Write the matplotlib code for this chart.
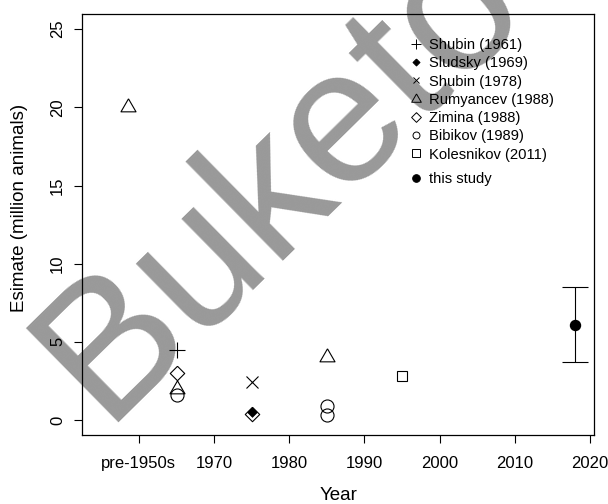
import matplotlib
matplotlib.use('Agg')
import matplotlib.pyplot as plt
from matplotlib.lines import Line2D

plt.rcParams['font.family'] = ['Liberation Sans', 'DejaVu Sans']

# data
shubin61_x = [1965]
shubin61_y = [4.5]
sludsky_x = [1975]
sludsky_y = [0.5]
shubin78_x = [1975]
shubin78_y = [2.4]
rumyancev_x = [1958.5, 1965, 1985]
rumyancev_y = [20.0, 2.0, 4.0]
zimina_x = [1965, 1975]
zimina_y = [3.0, 0.4]
bibikov_x = [1965, 1985, 1985]
bibikov_y = [1.6, 0.9, 0.3]
kolesnikov_x = [1995]
kolesnikov_y = [2.8]
study_x = [2018]
study_y = [6.1]
study_lo = [3.7]
study_hi = [8.5]

xtick_pos = [1960, 1970, 1980, 1990, 2000, 2010, 2020]
xtick_labels = ['pre-1950s', '1970', '1980', '1990', '2000', '2010', '2020']
ytick_pos = [0, 5, 10, 15, 20, 25]

# marker shapes (R-like)
tri = [(0, 1), (-0.866, -0.5), (0.866, -0.5), (0, 1)]
dia = [(0, 1), (1, 0), (0, -1), (-1, 0), (0, 1)]

fig = plt.figure(figsize=(6.08, 5.04), dpi=100)
ax = fig.add_axes([0.1345, 0.1369, 0.843, 0.8353])
ax.patch.set_alpha(0)

# watermark underneath everything
fig.text(103 / 608, 1 - 423 / 504, 'Buketov', fontsize=138, color='#999999',
         rotation=44.5, rotation_mode='anchor', ha='left', va='baseline',
         zorder=-5)

kw = dict(linestyle='none', color='black', mfc='none', mew=0.8)
ax.plot(shubin61_x, shubin61_y, marker='+', ms=11.5, **kw)
ax.plot(zimina_x, zimina_y, marker=dia, ms=10.4, **kw)
ax.plot(sludsky_x, sludsky_y, marker=dia, ms=7.0, linestyle='none', color='black', mew=0.5)
ax.plot(shubin78_x, shubin78_y, marker='x', ms=8, **kw)
ax.plot(rumyancev_x, rumyancev_y, marker=tri, ms=12.5, **kw)
ax.plot(bibikov_x, bibikov_y, marker='o', ms=9.4, **kw)
ax.plot(kolesnikov_x, kolesnikov_y, marker='s', ms=7.7, **kw)

yerr = [[study_y[0] - study_lo[0]], [study_hi[0] - study_y[0]]]
ax.errorbar(study_x, study_y, yerr=yerr, fmt='o', color='black', ms=7.2,
            capsize=9.4, elinewidth=0.8, capthick=0.8)

ax.set_xlim(1952.4, 2020.57)
ax.set_ylim(-0.96, 25.97)
ax.set_xticks(xtick_pos)
ax.set_xticklabels(xtick_labels)
ax.set_yticks(ytick_pos)
for lab in ax.get_yticklabels():
    lab.set_rotation(90)
    lab.set_va('center')

ax.tick_params(axis='both', direction='out', length=6, width=0.8, labelsize=12,
               colors='black')
ax.tick_params(axis='x', pad=9)
ax.tick_params(axis='y', pad=6)
for s in ax.spines.values():
    s.set_linewidth(0.9)

ax.set_xlabel('Year', fontsize=13.5)
ax.xaxis.set_label_coords(0.5, -0.123)
ax.set_ylabel('Esimate (million animals)', fontsize=13.5)
ax.yaxis.set_label_coords(-0.105, 0.54)

# legend
def h(marker, ms, fill='none'):
    return Line2D([], [], linestyle='none', color='black', marker=marker,
                  ms=ms, mfc=fill, mew=0.7)

handles = [h('+', 7), h(dia, 5, 'black'), h('x', 5), h(tri, 8),
           h(dia, 7), h('o', 5), h('s', 5.5)]
labels = ['Shubin (1961)', 'Sludsky (1969)', 'Shubin (1978)', 'Rumyancev (1988)',
          'Zimina (1988)', 'Bibikov (1989)', 'Kolesnikov (2011)']
leg = ax.legend(handles, labels, loc='upper left', bbox_to_anchor=(0.64, 0.943),
                frameon=False, fontsize=10.6, handlelength=0.8, handletextpad=0.5,
                labelspacing=0.29, borderpad=0, borderaxespad=0)
ax.add_artist(leg)
ax.legend([h('o', 5.5, 'black')], ['this study'], loc='upper left',
          bbox_to_anchor=(0.64, 0.625), frameon=False, fontsize=10.6,
          handlelength=0.8, handletextpad=0.5, borderpad=0, borderaxespad=0)

fig.savefig('out.png', dpi=100)
